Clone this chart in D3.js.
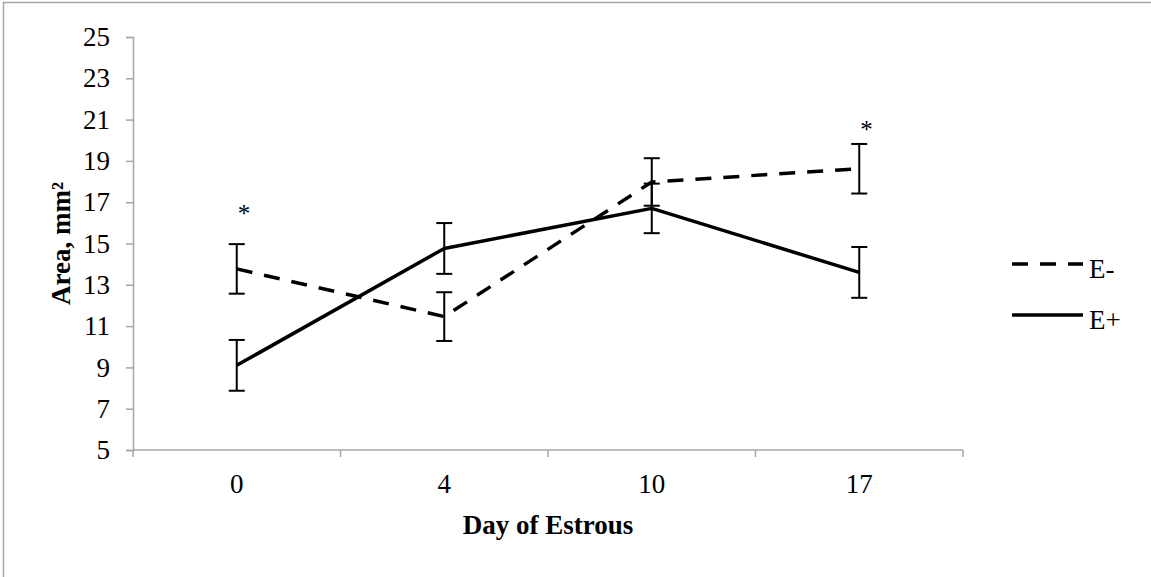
<!DOCTYPE html>
<html>
<head>
<meta charset="utf-8">
<script src="https://cdn.jsdelivr.net/npm/d3@7"></script>
<style>
  html, body { margin: 0; padding: 0; background: #fff; }
  svg { display: block; }
  text { font-family: "Liberation Serif", "Times New Roman", serif; fill: #000; }
</style>
</head>
<body>
<svg id="chart" width="1151" height="577"></svg>
<script>
// Day of estrous cycle (categorical x axis)
const days = ["0", "4", "10", "17"];
// Mean area (mm²) per group
const eMinus = [13.77, 11.46, 17.98, 18.62];
const ePlus = [9.10, 14.76, 16.70, 13.60];
// Standard errors
const eMinusErr = [1.20, 1.18, 1.15, 1.20];
const ePlusErr = [1.23, 1.23, 1.20, 1.23];
// Significance markers (height in mm² where the asterisk sits, null = none)
const sigMarks = [16.6, null, null, 20.7];
// Y tick values
const yTicks = [5, 7, 9, 11, 13, 15, 17, 19, 21, 23, 25];

const svg = d3.select("#chart");
const axisColor = "#a6a6a6";
const fontSize = 27;

// Outer chart frame
svg.append("rect")
  .attr("x", 3.5).attr("y", 2.5)
  .attr("width", 1200).attr("height", 700)
  .attr("fill", "none").attr("stroke", axisColor).attr("stroke-width", 1.5);

const plot = { left: 133, right: 963, top: 37, bottom: 450 };

const x = d3.scaleBand().domain(days).range([plot.left, plot.right]);
const y = d3.scaleLinear().domain([5, 25]).range([plot.bottom, plot.top]);
const cx = d => x(d) + x.bandwidth() / 2;

// Y axis
const yAxis = svg.append("g")
  .attr("transform", `translate(${plot.left},0)`)
  .call(d3.axisLeft(y).tickValues(yTicks).tickSize(7).tickPadding(16).tickFormat(d3.format("d")));
yAxis.selectAll("path, line").attr("stroke", axisColor).attr("stroke-width", 1.5);
yAxis.selectAll("text").attr("font-size", fontSize).attr("font-family", "Liberation Serif").attr("fill", "#000");

// X axis: ticks on category boundaries, labels at centres
const xAxisG = svg.append("g").attr("transform", `translate(0,${plot.bottom})`);
xAxisG.append("line")
  .attr("x1", plot.left).attr("x2", plot.right)
  .attr("stroke", axisColor).attr("stroke-width", 1.5);
const bounds = days.map(d => x(d)).concat([plot.right]);
xAxisG.selectAll("line.tick").data(bounds).join("line")
  .attr("class", "tick")
  .attr("x1", d => d).attr("x2", d => d)
  .attr("y1", 0).attr("y2", 7)
  .attr("stroke", axisColor).attr("stroke-width", 1.5);
xAxisG.selectAll("text").data(days).join("text")
  .attr("x", d => cx(d)).attr("y", 43)
  .attr("text-anchor", "middle").attr("font-size", fontSize)
  .text(d => d);

// Axis titles
svg.append("text")
  .attr("x", (plot.left + plot.right) / 2).attr("y", 534)
  .attr("text-anchor", "middle").attr("font-size", fontSize).attr("font-weight", "bold")
  .text("Day of Estrous");
svg.append("text")
  .attr("transform", `translate(70,${(plot.top + plot.bottom) / 2}) rotate(-90)`)
  .attr("text-anchor", "middle").attr("font-size", fontSize).attr("font-weight", "bold")
  .text("Area, mm²");

// Series
const series = [
  { name: "E-", values: eMinus, err: eMinusErr, dash: "16,12" },
  { name: "E+", values: ePlus, err: ePlusErr, dash: null }
];

const line = d3.line().x((d, i) => cx(days[i])).y(d => y(d));

series.forEach(s => {
  // error bars
  const g = svg.append("g");
  s.values.forEach((v, i) => {
    const px = cx(days[i]);
    const lo = y(v - s.err[i]), hi = y(v + s.err[i]);
    g.append("line").attr("x1", px).attr("x2", px).attr("y1", lo).attr("y2", hi)
      .attr("stroke", "#000").attr("stroke-width", 2);
    [lo, hi].forEach(yy => g.append("line")
      .attr("x1", px - 8).attr("x2", px + 8).attr("y1", yy).attr("y2", yy)
      .attr("stroke", "#000").attr("stroke-width", 2));
  });
});

series.forEach(s => {
  svg.append("path")
    .attr("d", line(s.values))
    .attr("fill", "none").attr("stroke", "#000").attr("stroke-width", 3.5)
    .attr("stroke-linejoin", "round")
    .attr("stroke-dasharray", s.dash);
});

// Significance asterisks
sigMarks.forEach((v, i) => {
  if (v == null) return;
  svg.append("text")
    .attr("x", cx(days[i]) + 1).attr("y", y(v) + 12)
    .attr("font-size", 25).attr("text-anchor", "start")
    .text("*");
});

// Legend
const legend = svg.append("g");
series.forEach((s, i) => {
  const ly = 264 + i * 51;
  legend.append("line")
    .attr("x1", 1012).attr("x2", 1083).attr("y1", ly).attr("y2", ly)
    .attr("stroke", "#000").attr("stroke-width", 3.5)
    .attr("stroke-dasharray", s.dash);
  legend.append("text")
    .attr("x", 1089).attr("y", ly + 14)
    .attr("font-size", fontSize)
    .text(s.name);
});
</script>
</body>
</html>
